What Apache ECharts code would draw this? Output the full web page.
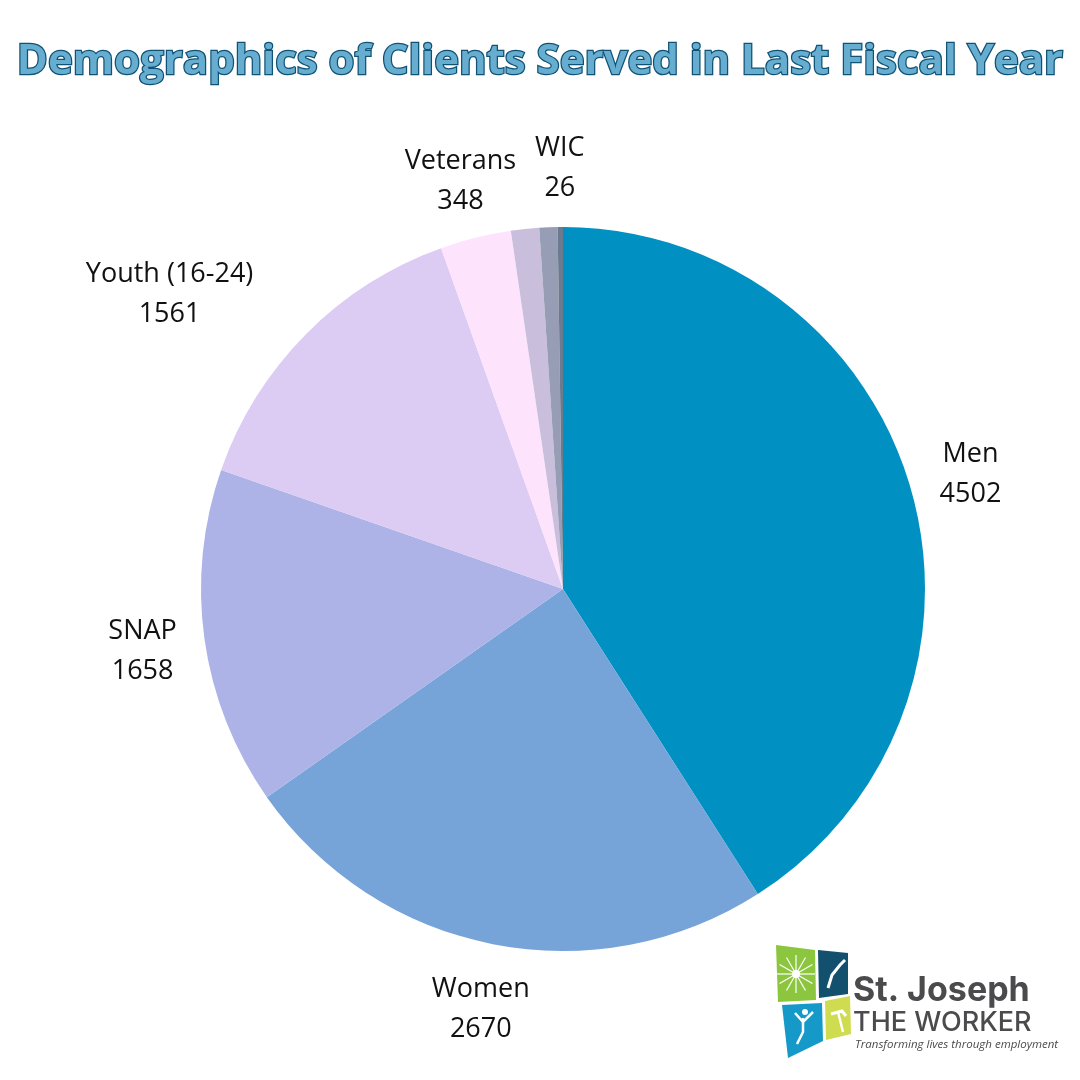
<!DOCTYPE html>
<html>
<head>
<meta charset="utf-8">
<title>Demographics of Clients Served</title>
<script src="https://cdn.jsdelivr.net/npm/echarts@6/dist/echarts.min.js"></script>
<style>
  html, body { margin: 0; padding: 0; background: #fff; }
  #chart { width: 1080px; height: 1080px; }
</style>
</head>
<body>
<div id="chart"></div>
<script>
// 数据
var names = ['Men', 'Women', 'SNAP', 'Youth (16-24)', 'Veterans', '', '', 'WIC'];
var values = [4502, 2670, 1658, 1561, 348, 138, 89, 26];
var colors = ['#0090c1', '#76a3d8', '#adb3e7', '#dccbf2', '#fde4fc', '#c9bedb', '#979db5', '#6b7a8f'];
// 不显示标签的扇区
var hiddenLabels = [5, 6];

var myChart = echarts.init(document.getElementById('chart'));

var pieData = names.map(function (n, i) {
  return { name: n, value: values[i], itemStyle: { color: colors[i] } };
});

var labelData = names.map(function (n, i) {
  var item = { name: n, value: values[i], itemStyle: { color: 'rgba(0,0,0,0)' } };
  if (hiddenLabels.indexOf(i) > -1) item.label = { show: false };
  // Youth 标签向左靠
  if (n === 'Youth (16-24)') item.label = { offset: [-92, 4] };
  return item;
});

// logo 的光芒
var rays = [];
for (var a = 0; a < 360; a += 30) {
  var rad = a * Math.PI / 180;
  rays.push({
    type: 'line',
    shape: { x1: 796, y1: 974, x2: 796 + Math.cos(rad) * 19, y2: 974 + Math.sin(rad) * 19 },
    style: { stroke: '#fff', lineWidth: 1.2 }
  });
}

var option = {
  backgroundColor: '#fff',
  title: {
    text: 'Demographics of Clients Served in Last Fiscal Year',
    left: 'center',
    top: 36,
    textStyle: {
      fontFamily: 'Open Sans',
      fontWeight: 'bold',
      fontSize: 42,
      color: '#66adcf',
      textBorderColor: '#0f5275',
      textBorderWidth: 2.5,
      textShadowColor: 'rgba(30,90,120,0.55)',
      textShadowOffsetX: 3,
      textShadowOffsetY: 3,
      textShadowBlur: 0
    }
  },
  series: [
    {
      type: 'pie',
      center: [563, 589],
      radius: 362,
      startAngle: 90,
      clockwise: true,
      silent: true,
      label: { show: false },
      labelLine: { show: false },
      itemStyle: { borderWidth: 0 },
      data: pieData
    },
    {
      // 透明的外圈，只用来放标签
      type: 'pie',
      center: [563, 589],
      radius: [400, 443],
      startAngle: 90,
      clockwise: true,
      silent: true,
      label: {
        show: true,
        position: 'inside',
        formatter: '{b}\n{c}',
        fontFamily: 'Open Sans',
        fontSize: 27,
        lineHeight: 40,
        color: '#111',
        align: 'center',
        offset: [0, 4]
      },
      labelLine: { show: false },
      data: labelData
    }
  ],
  graphic: [
    { type: 'polygon', shape: { points: [[776, 945], [815, 950], [816, 1000], [778, 1002]] }, style: { fill: '#8cc63f' } },
    { type: 'polygon', shape: { points: [[818, 950], [848, 953], [848, 994], [819, 998]] }, style: { fill: '#13506e' } },
    { type: 'polygon', shape: { points: [[782, 1005], [822, 1003], [823, 1041], [788, 1058]] }, style: { fill: '#1599c8' } },
    { type: 'polygon', shape: { points: [[825, 1001], [850, 996], [851, 1034], [826, 1040]] }, style: { fill: '#cfdc4f' } },
    { type: 'circle', shape: { cx: 796, cy: 974, r: 4 }, style: { fill: '#fff' } },
    // 手
    { type: 'polyline', shape: { points: [[828, 988], [832, 975], [840, 965], [845, 960]] }, style: { stroke: '#fff', lineWidth: 3, fill: null } },
    // 人
    { type: 'circle', shape: { cx: 805, cy: 1012, r: 3 }, style: { fill: '#fff' } },
    { type: 'polyline', shape: { points: [[795, 1013], [803, 1022], [813, 1012]] }, style: { stroke: '#fff', lineWidth: 2.5, fill: null } },
    { type: 'polyline', shape: { points: [[803, 1018], [803, 1032], [797, 1044]] }, style: { stroke: '#fff', lineWidth: 2.5, fill: null } },
    // 锤子
    { type: 'polyline', shape: { points: [[831, 1014], [842, 1011], [846, 1016]] }, style: { stroke: '#fff', lineWidth: 3, fill: null } },
    { type: 'line', shape: { x1: 838, y1: 1012, x2: 843, y2: 1032 }, style: { stroke: '#fff', lineWidth: 2.5 } },
    {
      type: 'text', left: 853, top: 974,
      style: { text: 'St. Joseph', fontFamily: 'Inter', fontWeight: 'bold', fontSize: 34, fill: '#4b4b4d' }
    },
    {
      type: 'text', left: 853, top: 1009,
      style: { text: 'THE WORKER', fontFamily: 'Inter', fontWeight: 500, fontSize: 27, fill: '#4b4b4d' }
    },
    {
      type: 'text', left: 855, top: 1039,
      style: { text: 'Transforming lives through employment', fontFamily: 'Open Sans', fontStyle: 'italic', fontSize: 11.5, fill: '#4b4b4d' }
    }
  ].concat(rays)
};

myChart.setOption(option);
</script>
</body>
</html>
